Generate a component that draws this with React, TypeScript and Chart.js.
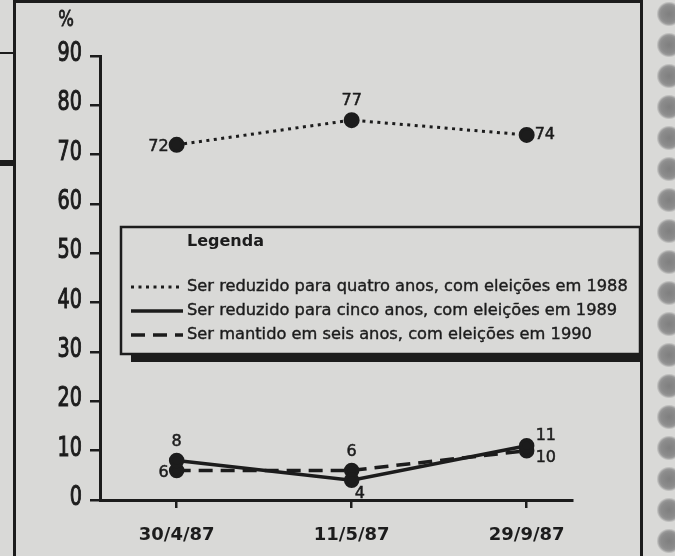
import { useEffect, useRef } from 'react';
import { Chart, registerables } from 'chart.js';

Chart.register(...registerables);

// ---------- data ----------
const categories = ['30/4/87', '11/5/87', '29/9/87'];
const quatroAnos = [72, 77, 74];
const cincoAnos = [8, 4, 11];
const seisAnos = [6, 6, 10];
const seriesNames = [
  'Ser reduzido para quatro anos, com eleições em 1988',
  'Ser reduzido para cinco anos, com eleições em 1989',
  'Ser mantido em seis anos, com eleições em 1990',
];
const yMin = 0;
const yMax = 90;
const yStep = 10;
const yUnit = '%';
const legendTitle = 'Legenda';

// ---------- style ----------
const INK = '#1c1c1c';
const BG = '#d9d9d7';
const SANS = "'DejaVu Sans', 'Noto Sans', sans-serif";

type Anchor = 'left' | 'right' | 'top' | 'bottomRight' | 'topRight' | 'rightBelow';

const labelPlugin = {
  id: 'pointLabels',
  afterDatasetsDraw(chart: any) {
    const ctx = chart.ctx as CanvasRenderingContext2D;
    ctx.save();
    ctx.fillStyle = INK;
    ctx.strokeStyle = INK;
    ctx.lineWidth = 0.5;
    ctx.font = `16px ${SANS}`;
    chart.data.datasets.forEach((ds: any, di: number) => {
      const meta = chart.getDatasetMeta(di);
      const anchors: Anchor[] = ds.labelAnchors || [];
      meta.data.forEach((el: any, i: number) => {
        const v = ds.data[i].y;
        const a = anchors[i] || 'top';
        let x = el.x;
        let y = el.y;
        ctx.textBaseline = 'middle';
        if (a === 'left') {
          ctx.textAlign = 'right';
          x -= 8;
          y += 2;
        } else if (a === 'right') {
          ctx.textAlign = 'left';
          x += 8;
        } else if (a === 'top') {
          ctx.textAlign = 'center';
          y -= 19;
        } else if (a === 'bottomRight') {
          ctx.textAlign = 'left';
          x += 3;
          y += 14;
        } else if (a === 'topRight') {
          ctx.textAlign = 'left';
          x += 9;
          y -= 10;
        } else if (a === 'rightBelow') {
          ctx.textAlign = 'left';
          x += 9;
          y += 7;
        }
        ctx.fillText(String(v), x, y);
        ctx.strokeText(String(v), x, y);
      });
    });
    ctx.restore();
  },
};

// condensed text helper: draws real text squeezed horizontally
function squeezedText(
  ctx: CanvasRenderingContext2D,
  text: string,
  x: number,
  y: number,
  squeeze: number,
  align: CanvasTextAlign,
) {
  ctx.save();
  ctx.translate(x, y);
  ctx.scale(squeeze, 1);
  ctx.textAlign = align;
  ctx.textBaseline = 'middle';
  ctx.fillText(text, 0, 0);
  ctx.strokeText(text, 0, 0);
  ctx.restore();
}

const yLabelPlugin = {
  id: 'yLabels',
  afterDraw(chart: any) {
    const ctx = chart.ctx as CanvasRenderingContext2D;
    const s = chart.scales.y;
    ctx.save();
    ctx.fillStyle = INK;
    ctx.strokeStyle = INK;
    ctx.lineWidth = 1.1;
    ctx.font = `27px ${SANS}`;
    s.ticks.forEach((t: any) => {
      const py = s.getPixelForValue(t.value);
      squeezedText(ctx, String(t.value), 82, py - 2, 0.71, 'right');
    });
    ctx.lineWidth = 0.8;
    ctx.font = `22px ${SANS}`;
    squeezedText(ctx, yUnit, 66, 20, 0.75, 'center');
    ctx.restore();
  },
};

const decorPlugin = {
  id: 'decor',
  afterDraw(chart: any) {
    const ctx = chart.ctx as CanvasRenderingContext2D;
    ctx.save();
    ctx.fillStyle = INK;
    // newspaper frame
    ctx.fillRect(13, 0, 3, 556);
    ctx.fillRect(640, 0, 3, 556);
    ctx.fillRect(13, 0, 630, 3);
    ctx.fillRect(0, 52, 14, 2);
    ctx.fillRect(0, 160, 14, 6);

    // legend box
    const bx = 121, by = 227, bw = 519, bh = 127;
    ctx.fillStyle = BG;
    ctx.fillRect(bx, by, bw, bh);
    ctx.strokeStyle = INK;
    ctx.lineWidth = 2.5;
    ctx.strokeRect(bx, by, bw, bh);
    ctx.fillStyle = INK;
    ctx.fillRect(131, by + bh + 1, 509, 7);

    ctx.textAlign = 'left';
    ctx.textBaseline = 'middle';
    ctx.font = `bold 16px ${SANS}`;
    ctx.fillText(legendTitle, 187, 242);

    // fit entries into the box width
    ctx.font = `16px ${SANS}`;
    const w0 = ctx.measureText(chart.data.datasets[0].label).width;
    const size = (16 * 441) / w0;
    const rows = [287, 311, 335];
    chart.data.datasets.forEach((ds: any, i: number) => {
      const ry = rows[i];
      ctx.save();
      ctx.strokeStyle = INK;
      ctx.lineWidth = ds.borderWidth;
      ctx.setLineDash(ds.borderDash || []);
      ctx.beginPath();
      ctx.moveTo(131, ry);
      ctx.lineTo(183, ry);
      ctx.stroke();
      ctx.restore();
      ctx.font = `${size}px ${SANS}`;
      ctx.lineWidth = 0.4;
      ctx.fillText(ds.label, 187, ry);
      ctx.strokeText(ds.label, 187, ry);
    });
    ctx.restore();
  },
};

export default function App() {
  const ref = useRef<HTMLCanvasElement>(null);

  useEffect(() => {
    document.body.style.margin = '0';
    const canvas = ref.current!;
    const toPts = (arr: number[]) => arr.map((y, i) => ({ x: i, y }));
    const chart = new Chart(canvas, {
      type: 'line',
      data: {
        datasets: [
          {
            label: seriesNames[0],
            data: toPts(quatroAnos),
            borderColor: INK,
            backgroundColor: INK,
            borderWidth: 3,
            borderDash: [3, 4.5],
            pointRadius: 6.5,
            pointBackgroundColor: INK,
            pointBorderColor: INK,
            tension: 0,
            labelAnchors: ['left', 'top', 'right'],
          } as any,
          {
            label: seriesNames[1],
            data: toPts(cincoAnos),
            borderColor: INK,
            backgroundColor: INK,
            borderWidth: 3.5,
            borderDash: [],
            pointRadius: 6,
            pointBackgroundColor: INK,
            pointBorderColor: INK,
            tension: 0,
            labelAnchors: ['top', 'bottomRight', 'topRight'],
          } as any,
          {
            label: seriesNames[2],
            data: toPts(seisAnos),
            borderColor: INK,
            backgroundColor: INK,
            borderWidth: 3.5,
            borderDash: [14, 8],
            pointRadius: 6,
            pointBackgroundColor: INK,
            pointBorderColor: INK,
            tension: 0,
            labelAnchors: ['left', 'top', 'rightBelow'],
          } as any,
        ],
      },
      options: {
        responsive: false,
        animation: false,
        devicePixelRatio: 1,
        layout: { padding: { left: 0, right: 103, top: 56, bottom: 0 } },
        plugins: {
          legend: { display: false },
          tooltip: { enabled: false },
          title: { display: false },
        },
        scales: {
          x: {
            type: 'linear',
            min: -0.438,
            max: 2.259,
            afterBuildTicks: (s: any) => {
              s.ticks = categories.map((_, i) => ({ value: i }));
            },
            afterFit: (s: any) => {
              s.height = 56;
            },
            ticks: {
              callback: (v: any) => categories[v as number] ?? '',
              color: INK,
              font: { family: SANS, size: 18, weight: 'bold' },
              padding: 17,
              maxRotation: 0,
              autoSkip: false,
            },
            grid: {
              display: true,
              drawOnChartArea: false,
              drawTicks: true,
              tickLength: 8,
              color: INK,
              lineWidth: 2.5,
            },
            border: { display: true, color: INK, width: 3 },
          },
          y: {
            type: 'linear',
            min: yMin,
            max: yMax,
            afterFit: (s: any) => {
              s.width = 100;
            },
            ticks: {
              stepSize: yStep,
              display: false,
            },
            grid: {
              display: true,
              drawOnChartArea: false,
              drawTicks: true,
              tickLength: 10,
              color: INK,
              lineWidth: 2.5,
            },
            border: { display: true, color: INK, width: 3 },
          },
        },
      } as any,
      plugins: [labelPlugin, yLabelPlugin, decorPlugin],
    });
    return () => chart.destroy();
  }, []);

  return (
    <div
      style={{
        position: 'fixed',
        left: 0,
        top: 0,
        width: 675,
        height: 556,
        background: BG,
        overflow: 'hidden',
      }}
    >
      <canvas ref={ref} width={675} height={556} style={{ display: 'block' }} />
      <div
        style={{
          position: 'absolute',
          left: 647,
          top: 0,
          width: 28,
          height: 556,
          backgroundImage: 'radial-gradient(circle at 22px 14px, #7f7f7f 0, #8c8c8c 8px, #999 10px, rgba(170,170,170,0) 12.5px)',
          backgroundSize: '28px 31px',
          backgroundRepeat: 'repeat-y',
        }}
      />
    </div>
  );
}
